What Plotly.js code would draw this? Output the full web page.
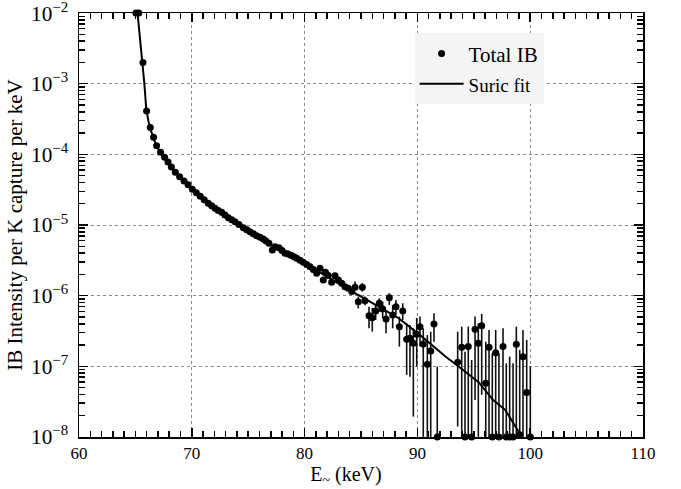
<!DOCTYPE html>
<html>
<head>
<meta charset="utf-8">
<script src="https://cdn.plot.ly/plotly-3.0.1.min.js"></script>
<style>html,body{margin:0;padding:0;background:#fff}#chart{width:681px;height:489px}</style>
</head>
<body>
<div id="chart"></div>
<script>
// ---- Data ----
var energy = [65.05, 65.30, 65.67, 65.99, 66.32, 66.61, 66.88, 67.23, 67.59, 67.89, 68.19, 68.54, 68.92, 69.31, 69.67,
  70.05, 70.40, 70.75, 71.10, 71.46, 71.76, 72.06, 72.35, 72.65, 72.94, 73.24, 73.54, 73.83, 74.18, 74.57, 74.87,
  75.16, 75.45, 75.75, 76.05, 76.34, 76.58, 76.84, 77.14, 77.38, 77.73, 78.00, 78.26, 78.53, 78.80, 79.05, 79.30,
  79.59, 79.88, 80.19, 80.48, 80.77, 81.07, 81.37, 81.66, 81.85, 82.10, 82.40, 82.70, 82.99, 83.29, 83.58, 83.87,
  84.18, 84.47, 84.76, 85.12, 85.35, 85.71, 86.00, 86.30, 86.62, 86.92, 87.22, 87.51, 87.81, 88.10, 88.40, 88.70,
  89.05, 89.34, 89.64, 89.94, 90.23, 90.52, 90.88, 91.18, 91.47, 91.76,
  93.57, 93.93, 94.22, 94.51, 94.81, 95.11, 95.40, 95.70, 96.06, 96.35, 96.64, 96.94, 97.23, 97.59, 97.88,
  98.18, 98.48, 98.77, 99.07, 99.36, 99.69, 100.01];
var intensity = [1e-2, 1e-2, 2.0e-3, 4.1e-4, 2.4e-4, 1.74e-4, 1.32e-4, 1.07e-4, 9.1e-5, 7.8e-5, 6.6e-5, 5.6e-5, 4.8e-5, 4.2e-5, 3.7e-5,
  3.2e-5, 2.85e-5, 2.55e-5, 2.28e-5, 2.03e-5, 1.87e-5, 1.72e-5, 1.61e-5, 1.51e-5, 1.39e-5, 1.27e-5, 1.19e-5, 1.11e-5, 1.02e-5, 9.16e-6, 8.59e-6,
  8.04e-6, 7.53e-6, 7.06e-6, 6.70e-6, 6.34e-6, 5.94e-6, 5.51e-6, 4.43e-6, 4.93e-6, 4.78e-6, 4.36e-6, 3.98e-6, 3.89e-6, 3.72e-6, 3.55e-6, 3.38e-6,
  3.17e-6, 2.97e-6, 2.76e-6, 2.57e-6, 2.35e-6, 2.08e-6, 2.44e-6, 1.67e-6, 2.14e-6, 1.93e-6, 1.55e-6, 1.92e-6, 1.67e-6, 1.50e-6, 1.34e-6, 1.27e-6,
  1.14e-6, 1.31e-6, 8.22e-7, 1.31e-6, 8.49e-7, 5.21e-7, 4.88e-7, 6.07e-7, 7.80e-7, 6.48e-7, 4.68e-7, 9.35e-7, 5.33e-7, 6.98e-7, 3.64e-7, 6.07e-7,
  2.42e-7, 2.49e-7, 2.12e-7, 2.84e-7, 3.64e-7, 2.07e-7, 1.07e-7, 1.65e-7, 3.97e-7, 1e-8,
  1.14e-7, 1.86e-7, 1e-8, 1.90e-7, 1e-8, 3.34e-7, 2.12e-7, 3.76e-7, 5.75e-8, 1.86e-7, 1e-8, 1.56e-7, 1e-8, 1.90e-7, 1e-8,
  1e-8, 1e-8, 2.05e-7, 1.07e-8, 1.37e-7, 4.24e-8, 1e-8];
// upper / lower ends of the error bars (null = bar hidden by the marker)
var barHigh = [null, null, null, null, null, null, null, null, null, null, null, null, null, null, null,
  null, null, null, null, null, null, null, null, null, null, null, null, null, null, null, null,
  null, null, null, null, null, null, null, null, null, null, null, null, null, null, null, null,
  null, null, null, null, null, null, null, null, null, null, null, null, null, null, null, null,
  null, 1.58e-6, 9.7e-7, 1.5e-6, 9.7e-7, 6.98e-7, 6.70e-7, 7.38e-7, 9.18e-7, 8.22e-7, 6.26e-7, 1.08e-6, 7.38e-7, 8.69e-7, 5.05e-7, 7.80e-7,
  4.06e-7, 3.85e-7, 3.45e-7, 4.83e-7, 5.05e-7, 3.45e-7, 2.77e-7, 3.09e-7, 5.64e-7, 9.89e-8,
  3.09e-7, 3.64e-7, 1.61e-7, 3.64e-7, 1.23e-7, 5.05e-7, 4.06e-7, 5.51e-7, 2.23e-7, 3.27e-7, 1.53e-7, 3.27e-7, 1.53e-7, 3.45e-7, 1.10e-7,
  1.37e-7, 1.10e-7, 3.64e-7, 1.70e-7, 3.27e-7, 2.36e-7, 9.89e-8];
var barLow = [null, null, null, null, null, null, null, null, null, null, null, null, null, null, null,
  null, null, null, null, null, null, null, null, null, null, null, null, null, null, null, null,
  null, null, null, null, null, null, null, null, null, null, null, null, null, null, null, null,
  null, null, null, null, null, null, null, null, null, null, null, null, null, null, null, null,
  null, 1.2e-6, 6.6e-7, 1.14e-6, 7.3e-7, 3.45e-7, 3.09e-7, 4.53e-7, 5.93e-7, 4.79e-7, 2.94e-7, 7.38e-7, 3.45e-7, 5.33e-7, 1.90e-7, 4.53e-7,
  7.55e-8, 7.13e-8, 1.94e-8, 9.89e-8, 1.90e-7, 1e-8, 1e-8, 1e-8, 2.23e-7, 1e-8,
  1.40e-8, 1e-8, 1e-8, 1e-8, 1e-8, 3.34e-8, 1e-8, 3.94e-8, 1e-8, 1e-8, 1e-8, 1e-8, 1e-8, 1e-8, 1e-8,
  1e-8, 1e-8, 1e-8, 1e-8, 1e-8, 1e-8, 1e-8];

var fitEnergy = [65.10, 65.19, 65.41, 65.65, 65.79, 65.97, 66.17, 66.39, 66.83, 67.27, 67.86, 68.51, 69.28, 69.93, 70.82,
  72.00, 74.36, 76.43, 78.50, 80.27, 82.34, 84.11, 85.29, 87.06, 88.25, 90.02, 92.54, 93.57, 95.40, 96.74, 97.80, 99.10, 99.40];
var fitIntensity = [1.41e-2, 1.0e-2, 4.9e-3, 2.09e-3, 1.02e-3, 4.27e-4, 2.88e-4, 2.14e-4, 1.35e-4, 1.02e-4, 7.76e-5, 5.62e-5, 4.37e-5, 3.31e-5, 2.63e-5,
  1.62e-5, 9.55e-6, 5.75e-6, 3.98e-6, 2.69e-6, 1.70e-6, 1.17e-6, 9.12e-7, 6.31e-7, 4.90e-7, 2.95e-7, 1.35e-7, 1.02e-7, 6.0e-8, 3.3e-8, 2.4e-8, 1.1e-8, 7e-9];

var seriesNames = ['Total IB', 'Suric fit'];

// ---- build error arrays ----
var errPlus = intensity.map(function (v, i) { return barHigh[i] === null ? 0 : barHigh[i] - v; });
var errMinus = intensity.map(function (v, i) { return barLow[i] === null ? 0 : v - barLow[i]; });

var FONT = '"Liberation Serif", "DejaVu Serif", serif';

var traces = [
  {
    x: energy, y: intensity, type: 'scatter', mode: 'markers', name: seriesNames[0],
    marker: { color: '#000', size: 7, symbol: 'circle' },
    error_y: { type: 'data', symmetric: false, array: errPlus, arrayminus: errMinus,
               color: '#111', thickness: 1.6, width: 0, visible: true },
    cliponaxis: false
  },
  {
    x: fitEnergy, y: fitIntensity, type: 'scatter', mode: 'lines',
    name: '<span style="font-size:19px">' + seriesNames[1] + '</span>',
    line: { color: '#000', width: 2 }
  }
];

var layout = {
  width: 681, height: 489,
  margin: { l: 79, r: 38, t: 13, b: 52 },
  paper_bgcolor: '#fff', plot_bgcolor: '#fff',
  font: { family: FONT, color: '#000', size: 17 },
  showlegend: true,
  legend: {
    x: 0.595, y: 0.952, xanchor: 'left', yanchor: 'top',
    bgcolor: '#f4f4f4', borderwidth: 0,
    font: { family: FONT, size: 21, color: '#000' },
    itemwidth: 44, tracegroupgap: 0
  },
  xaxis: {
    type: 'linear', range: [60, 110], dtick: 10, tick0: 60,
    ticks: 'inside', ticklen: 9, tickwidth: 1.5, tickcolor: '#000',
    minor: { ticks: 'inside', dtick: 1, tick0: 60, ticklen: 6, tickwidth: 1.5, tickcolor: '#000', showgrid: false },
    showline: true, linecolor: '#000', linewidth: 1.5, mirror: 'ticks',
    showgrid: true, gridcolor: '#888', griddash: 'dot', gridwidth: 1,
    zeroline: false,
    tickfont: { family: FONT, size: 17 },
    title: { text: 'E<sub>~</sub> (keV)&nbsp;&nbsp;&nbsp;&nbsp;&nbsp;&nbsp;', font: { family: FONT, size: 20 }, standoff: 4 }
  },
  yaxis: {
    type: 'log', range: [-8.001, -1.999], dtick: 1, tick0: 0,
    exponentformat: 'power', ticklabeloverflow: 'allow',
    ticks: 'inside', ticklen: 9, tickwidth: 1.5, tickcolor: '#000',
    minor: { ticks: 'inside', dtick: 'D1', ticklen: 6, tickwidth: 1.5, tickcolor: '#000', showgrid: false },
    showline: true, linecolor: '#000', linewidth: 1.5, mirror: 'ticks',
    showgrid: true, gridcolor: '#888', griddash: 'dot', gridwidth: 1,
    zeroline: false,
    ticklabelstandoff: 6,
    tickfont: { family: FONT, size: 17 },
    title: { text: 'IB Intensity per K capture per keV', font: { family: FONT, size: 21 }, standoff: 2 }
  }
};

Plotly.newPlot('chart', traces, layout, { staticPlot: true, displayModeBar: false });
</script>
</body>
</html>
